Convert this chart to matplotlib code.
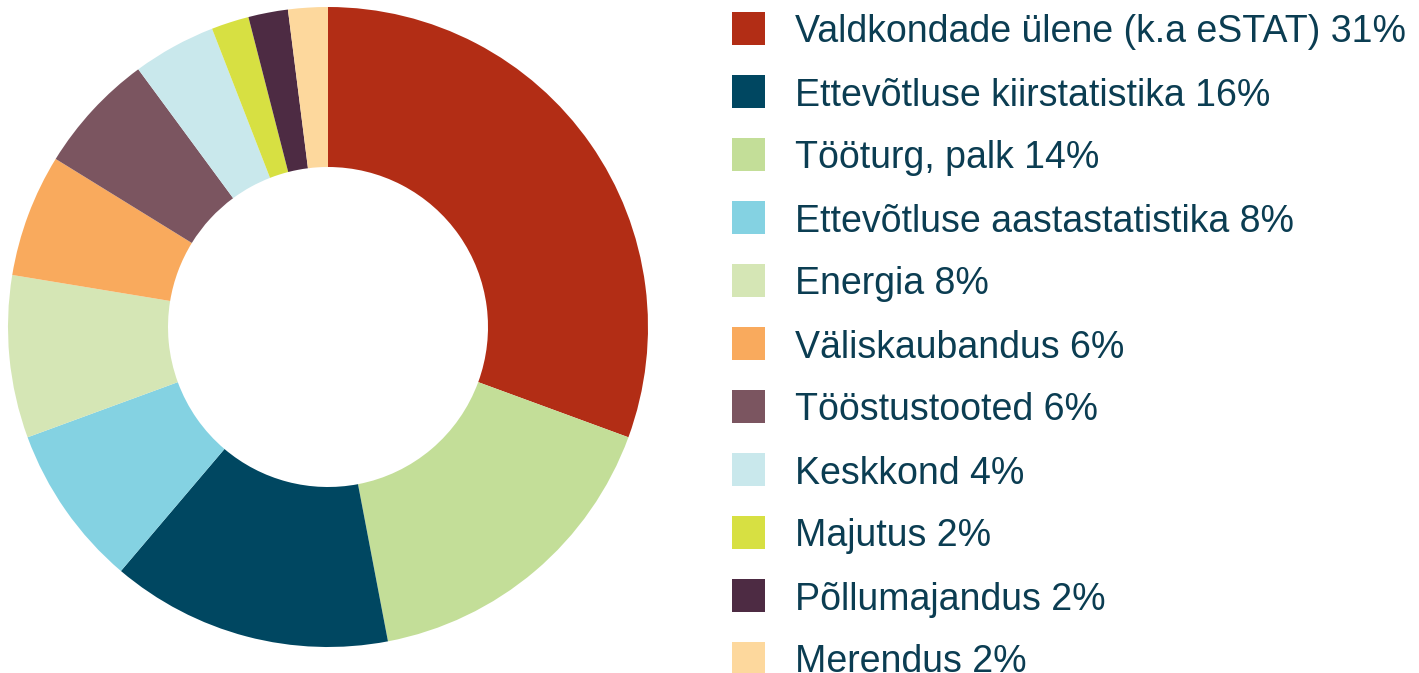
import matplotlib
matplotlib.use("Agg")
import matplotlib.pyplot as plt
from matplotlib.patches import Rectangle

plt.rcParams['font.family'] = ['Liberation Sans', 'DejaVu Sans']

ring_values = [30.6, 16.4, 14.2, 8.2, 8.2, 6.2, 6.1, 4.2, 1.9, 2.0, 2.0]
ring_colors = ['#B22D15', '#C3DE98', '#004761', '#84D2E2', '#D5E6B5', '#F9AA5D',
               '#7B5560', '#C9E8EC', '#D7E042', '#4D2B43', '#FDD89D']

# legend entries as printed next to the chart
legend_labels = ['Valdkondade ülene (k.a eSTAT) 31%', 'Ettevõtluse kiirstatistika 16%',
                 'Tööturg, palk 14%', 'Ettevõtluse aastastatistika 8%', 'Energia 8%',
                 'Väliskaubandus 6%', 'Tööstustooted 6%', 'Keskkond 4%', 'Majutus 2%',
                 'Põllumajandus 2%', 'Merendus 2%']
legend_colors = ['#B22D15', '#004761', '#C3DE98', '#84D2E2', '#D5E6B5', '#F9AA5D',
                 '#7B5560', '#C9E8EC', '#D7E042', '#4D2B43', '#FDD89D']

W, H = 1419, 673
fig = plt.figure(figsize=(W / 100, H / 100), dpi=100)

# donut: centre (328, 327), outer radius 320 px
cx, cy, r = 328, 327, 320
ax = fig.add_axes([(cx - r) / W, (H - cy - r) / H, 2 * r / W, 2 * r / H])
ax.pie(ring_values, colors=ring_colors, startangle=90, counterclock=False,
       radius=1, wedgeprops=dict(width=0.5, linewidth=0))
ax.set_xlim(-1, 1)
ax.set_ylim(-1, 1)
ax.set_aspect('equal')
ax.axis('off')

# legend drawn by hand
sq = 33
for i, (lab, col) in enumerate(zip(legend_labels, legend_colors)):
    yc = 28.5 + i * 63
    fig.patches.append(Rectangle((732 / W, (H - yc - sq / 2) / H), sq / W, sq / H,
                                 transform=fig.transFigure, color=col, linewidth=0))
    fig.text(795 / W, (H - yc) / H, lab, fontsize=27, color='#0B3D52',
             va='center_baseline', ha='left')

fig.savefig('out.png', dpi=100)
